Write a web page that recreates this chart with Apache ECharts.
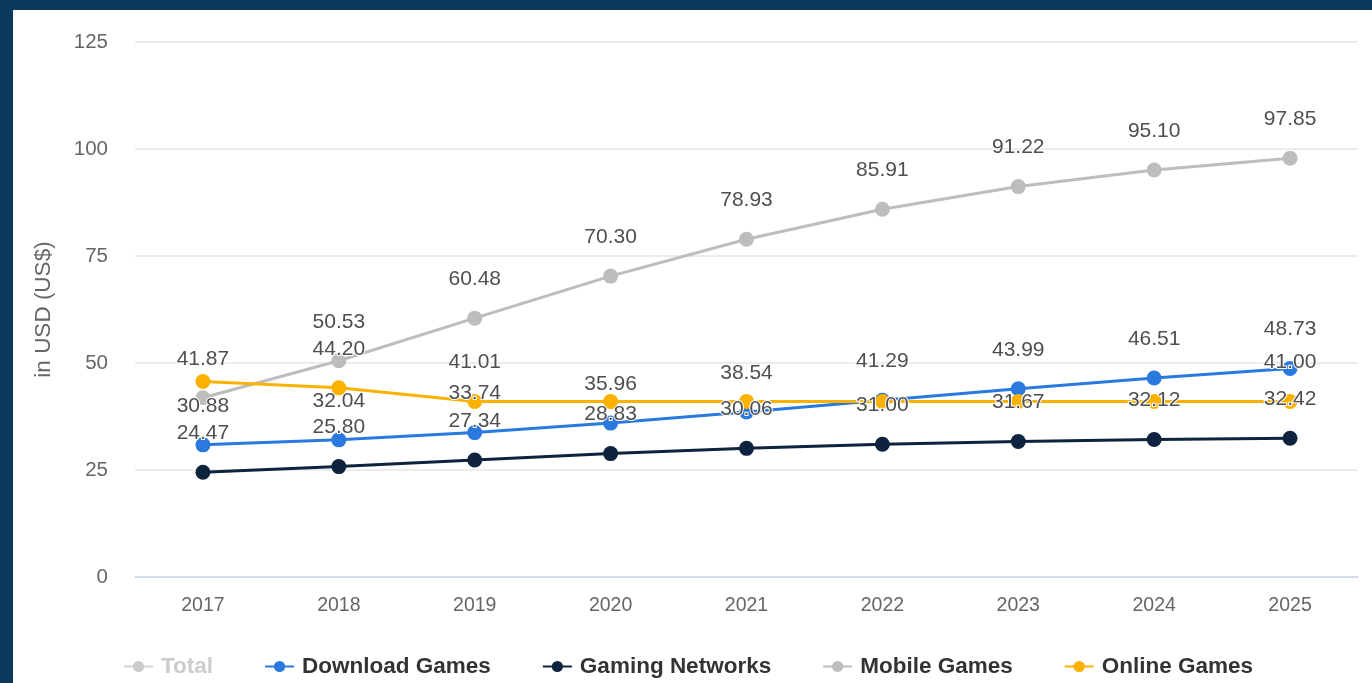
<!DOCTYPE html>
<html>
<head>
<meta charset="utf-8">
<script src="https://cdn.jsdelivr.net/npm/echarts@6/dist/echarts.min.js"></script>
<style>
  html, body { margin: 0; padding: 0; width: 1372px; height: 683px; background: #0c3a5f; overflow: hidden; }
  #chart { position: absolute; left: 13px; top: 10px; width: 1359px; height: 673px; background: #fff; }
</style>
</head>
<body>
<div id="chart"></div>
<script>
const years = ["2017", "2018", "2019", "2020", "2021", "2022", "2023", "2024", "2025"];
const totalValues = [];
const downloadGames = [30.88, 32.04, 33.74, 35.96, 38.54, 41.29, 43.99, 46.51, 48.73];
const gamingNetworks = [24.47, 25.80, 27.34, 28.83, 30.06, 31.00, 31.67, 32.12, 32.42];
const mobileGames = [41.87, 50.53, 60.48, 70.30, 78.93, 85.91, 91.22, 95.10, 97.85];
const onlineGames = [45.67, 44.20, 41.01, 41.00, 41.00, 41.00, 41.00, 41.00, 41.00];
// which online labels survive the overlap in the original
const onlineLabelShown = [false, true, true, false, false, false, false, false, true];

const FONT = "Arial, 'Liberation Sans', Helvetica, sans-serif";

const chart = echarts.init(document.getElementById("chart"), null, { renderer: "canvas" });

function lineSeries(name, data, color) {
  return {
    name: name,
    type: "line",
    data: data,
    symbol: "circle",
    symbolSize: 15,
    showAllSymbol: true,
    lineStyle: { width: 3, color: color },
    itemStyle: { color: color },
    label: {
      show: true,
      position: "top",
      distance: 21,
      fontSize: 21,
      fontFamily: FONT,
      color: "#4f4f4f",
      textBorderColor: "#fff",
      textBorderWidth: 2,
      formatter: (p) => p.value.toFixed(2),
    },
    emphasis: { disabled: true },
    animation: false,
  };
}

const online = lineSeries("Online Games", onlineGames.map((v, i) => ({
  value: v,
  label: { show: onlineLabelShown[i] },
})), "#fbb100");

chart.setOption({
  backgroundColor: "#fff",
  animation: false,
  grid: { left: 122, right: 14, top: 32, bottom: 106, outerBoundsMode: "none" },
  legend: {
    top: 640,
    left: 105,
    itemGap: 51,
    itemWidth: 29,
    itemHeight: 14,
    inactiveColor: "#cccccc",
    textStyle: { fontSize: 22.5, fontWeight: "bold", color: "#333", fontFamily: FONT, padding: [0, 0, 0, 3] },
    selected: { "Total": false },
    data: ["Total", "Download Games", "Gaming Networks", "Mobile Games", "Online Games"],
  },
  xAxis: {
    type: "category",
    data: years,
    boundaryGap: true,
    axisLine: { lineStyle: { color: "#ccd6eb", width: 1.5 } },
    axisTick: { show: false },
    axisLabel: { color: "#666", fontSize: 19.5, margin: 19, fontFamily: FONT },
  },
  yAxis: {
    type: "value",
    min: 0,
    max: 125,
    interval: 25,
    name: "in USD (US$)",
    nameLocation: "middle",
    nameRotate: 90,
    nameGap: 80,
    nameTextStyle: { color: "#666", fontSize: 22.5, fontFamily: FONT },
    axisLine: { show: false },
    axisTick: { show: false },
    axisLabel: { color: "#666", fontSize: 20.5, margin: 27, fontFamily: FONT, padding: [4, 0, 0, 0] },
    splitLine: { lineStyle: { color: "#e6e6e6", width: 1.5 } },
  },
  series: [
    lineSeries("Total", totalValues, "#c8c8c8"),
    lineSeries("Download Games", downloadGames, "#2a79df"),
    lineSeries("Gaming Networks", gamingNetworks, "#0e233e"),
    lineSeries("Mobile Games", mobileGames, "#bdbdbd"),
    online,
  ],
});
</script>
</body>
</html>
